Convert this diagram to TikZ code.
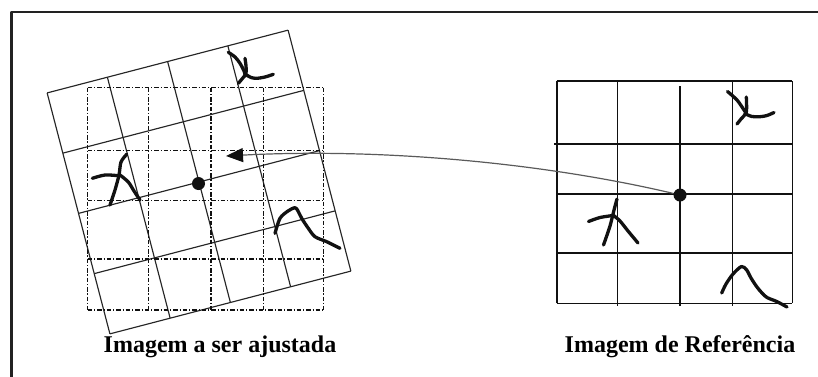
\documentclass[tikz,border=0pt]{standalone}
\usepackage{fontspec}
\setmainfont{Liberation Serif}
\usetikzlibrary{arrows.meta}
\definecolor{ink}{HTML}{111111}
\definecolor{gridgray}{HTML}{262626}
\definecolor{wire}{HTML}{5A5A5A}
\definecolor{frameline}{HTML}{222222}
\tikzset{fig/.style={line join=round,>=Stealth},
 feat/.style={ink,line width=3.3pt,line cap=round,line join=round},
 dotnode/.style={circle,fill=ink,inner sep=0pt,minimum size=13pt},
 lbl/.style={anchor=base,font=\fontsize{24}{28}\selectfont\bfseries},
 rotgrid/.style={gridgray,line width=1.15pt},
 refgrid/.style={ink,line width=1.6pt},
 dashgrid/.style={ink,line width=1.5pt,dash pattern=on 4.5pt off 1.8pt on 1.4pt off 1.8pt}}

\begin{document}
\begin{tikzpicture}[fig,x=1pt,y=-1pt]
 \useasboundingbox (0,0) rectangle (818,376);
 \clip (0,0) rectangle (818,376);
 \draw[frameline,line width=2.2pt] (11.5,380) -- (11.5,12.3) -- (822,12.3);
 \begin{scope}[shift={(199,182)},rotate=14.6]
  \foreach \t in {-124.5,-62.25,0,62.25,124.5}{
   \draw[rotgrid] (\t,-124.5) -- (\t,124.5);
   \draw[rotgrid] (-124.5,\t) -- (124.5,\t);}
 \end{scope}
 \begin{scope}[shift={(87.7,87.5)}]
  \foreach \u in {0,60.6,123.3,175.6,235.6} \draw[dashgrid] (\u,0) -- (\u,222.3);
  \foreach \v in {0,63,113,171.7,222.3} \draw[dashgrid] (0,\v) -- (235.6,\v);
 \end{scope}
 \begin{scope}[shift={(556.7,81)}]
  \foreach \u/\a/\b in {0/0/222.3,60.6/0/225,123.3/5/225,175.6/0/225,235.6/0/222.3} \draw[refgrid] (\u,\a) -- (\u,\b);
  \foreach \v/\a in {0/0,63/-2.5,113/0,171.7/0,222.3/0} \draw[refgrid] (\a,\v) -- (235.6,\v);
 \end{scope}
 \draw[feat] plot[smooth] coordinates {(727.5,91.5) (737,100) (744,110) (746,113)};
 \draw[feat] plot[smooth] coordinates {(746.3,97) (746.3,112) (741,119) (737,124)};
 \draw[feat] plot[smooth] coordinates {(745.7,114) (752,116.5) (760,116.7) (767,115.5) (774,112.5)};
 \draw[feat] plot[smooth] coordinates {(617,199) (614,210) (610,226) (603.5,245)};
 \draw[feat] plot[smooth] coordinates {(588.5,221.5) (600,217.5) (613,215.5)};
 \draw[feat] plot[smooth] coordinates {(613,215) (620,221) (628,231) (638,243)};
 \draw[feat] plot[smooth] coordinates {(721.7,293) (726,284) (733,274) (741.5,266.5) (746.7,270) (751,278) (756.7,286.7) (762,293) (767,297.5) (776.7,301.5) (787,307)};
 \draw[feat] plot[smooth] coordinates {(228.3,52.3) (235,57) (240,63.3) (244,71) (245.5,76)};
 \draw[feat] plot[smooth] coordinates {(245,58.3) (246,66) (246,73.3) (242,79) (238.3,83.3)};
 \draw[feat] plot[smooth] coordinates {(246.7,75) (251,77.5) (256.7,78.3) (265,77) (273.3,74.3)};
 \draw[feat] plot[smooth] coordinates {(92.3,178.3) (105,175) (118.3,175.7)};
 \draw[feat] plot[smooth] coordinates {(126.7,154.3) (121,162) (119,175) (115,190) (110,205)};
 \draw[feat] plot[smooth] coordinates {(120,175) (128.3,182) (134,191) (140,200)};
 \draw[feat] plot[smooth] coordinates {(275,233.3) (280,218.3) (288,211) (295,207.7) (298,211) (301.7,218.3) (308.3,228.3) (315,236.7) (326.7,241.7) (340,248.3)};
 \node[dotnode] (movdot) at (198.5,183.5) {};
 \node[dotnode] (refdot) at (680,195) {};
 \coordinate (tip) at (226,156);
 \draw[wire,line width=1.2pt,-{Triangle[length=17pt,width=14pt,color=ink]}] (refdot) .. controls (540,162) and (377,148) .. (tip);
 \node[lbl] (lblmov) at (220,352.7) {Imagem a ser ajustada};
 \node[lbl] (lblref) at (680,352.7) {Imagem de Referência};
\end{tikzpicture}
\end{document}
